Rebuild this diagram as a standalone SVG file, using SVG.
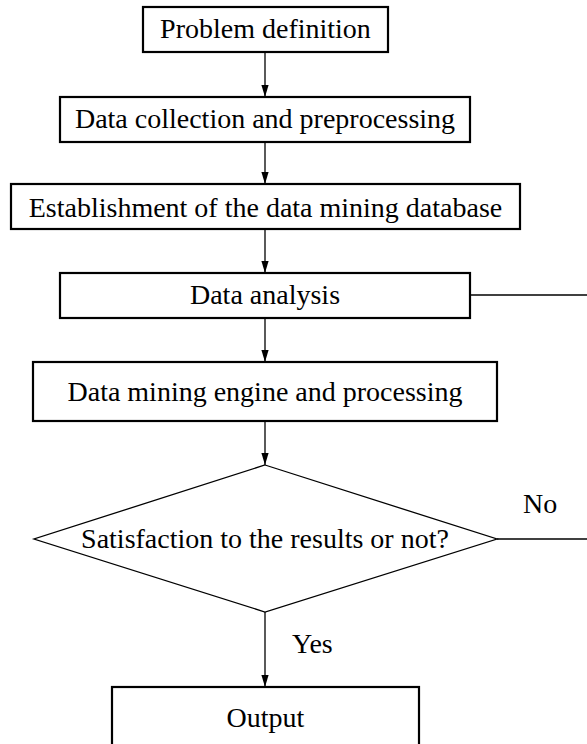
<svg xmlns="http://www.w3.org/2000/svg" width="587" height="744" viewBox="0 0 587 744">
  <defs>
    <marker id="arrow" markerUnits="userSpaceOnUse" markerWidth="12" markerHeight="20" refX="20" refY="6" orient="auto" viewBox="0 0 20 12">
      <polygon points="0,0 20,6 0,12" fill="#000"/>
    </marker>
    <style>
      .box { fill: #fff; stroke: #000; stroke-width: 2.2; }
      .dia { fill: #fff; stroke: #000; stroke-width: 1.3; }
      .line { fill: none; stroke: #000; stroke-width: 1.3; }
      .arr { marker-end: url(#arrow); }
      text { font-family: "Liberation Serif", "Times New Roman", serif; font-size: 28px; fill: #000; }
      .c { text-anchor: middle; }
    </style>
  </defs>
  <rect width="587" height="744" fill="#fff"/>

  <g id="connectors">
    <line class="line arr" x1="265" y1="52" x2="265" y2="97"/>
    <line class="line arr" x1="265" y1="142" x2="265" y2="184"/>
    <line class="line arr" x1="265" y1="229" x2="265" y2="273"/>
    <line class="line arr" x1="265" y1="318" x2="265" y2="362"/>
    <line class="line arr" x1="265" y1="421" x2="265" y2="465"/>
    <line class="line arr" x1="265" y1="612" x2="265" y2="687"/>
    <line class="line" x1="470" y1="295" x2="587" y2="295"/>
    <line class="line" x1="497" y1="539" x2="587" y2="539"/>
    <text x="523" y="513">No</text>
    <text x="292" y="653">Yes</text>
  </g>

  <g id="problem-definition">
    <rect class="box" x="143" y="7" width="245" height="45"/>
    <text class="c" x="265.5" y="38">Problem definition</text>
  </g>
  <g id="data-collection">
    <rect class="box" x="60" y="97" width="410" height="45"/>
    <text class="c" x="265" y="128">Data collection and preprocessing</text>
  </g>
  <g id="database">
    <rect class="box" x="11" y="184" width="509" height="45"/>
    <text class="c" x="265.5" y="217">Establishment of the data mining database</text>
  </g>
  <g id="data-analysis">
    <rect class="box" x="60" y="273" width="410" height="45"/>
    <text class="c" x="265" y="304">Data analysis</text>
  </g>
  <g id="mining-engine">
    <rect class="box" x="33" y="362" width="464" height="59"/>
    <text class="c" x="265" y="401">Data mining engine and processing</text>
  </g>
  <g id="decision">
    <polygon class="dia" points="265,465 497,539 265,612 34,539"/>
    <text class="c" x="265" y="548">Satisfaction to the results or not?</text>
  </g>
  <g id="output">
    <rect class="box" x="112" y="687" width="307" height="80"/>
    <text class="c" x="265.5" y="727">Output</text>
  </g>
</svg>
